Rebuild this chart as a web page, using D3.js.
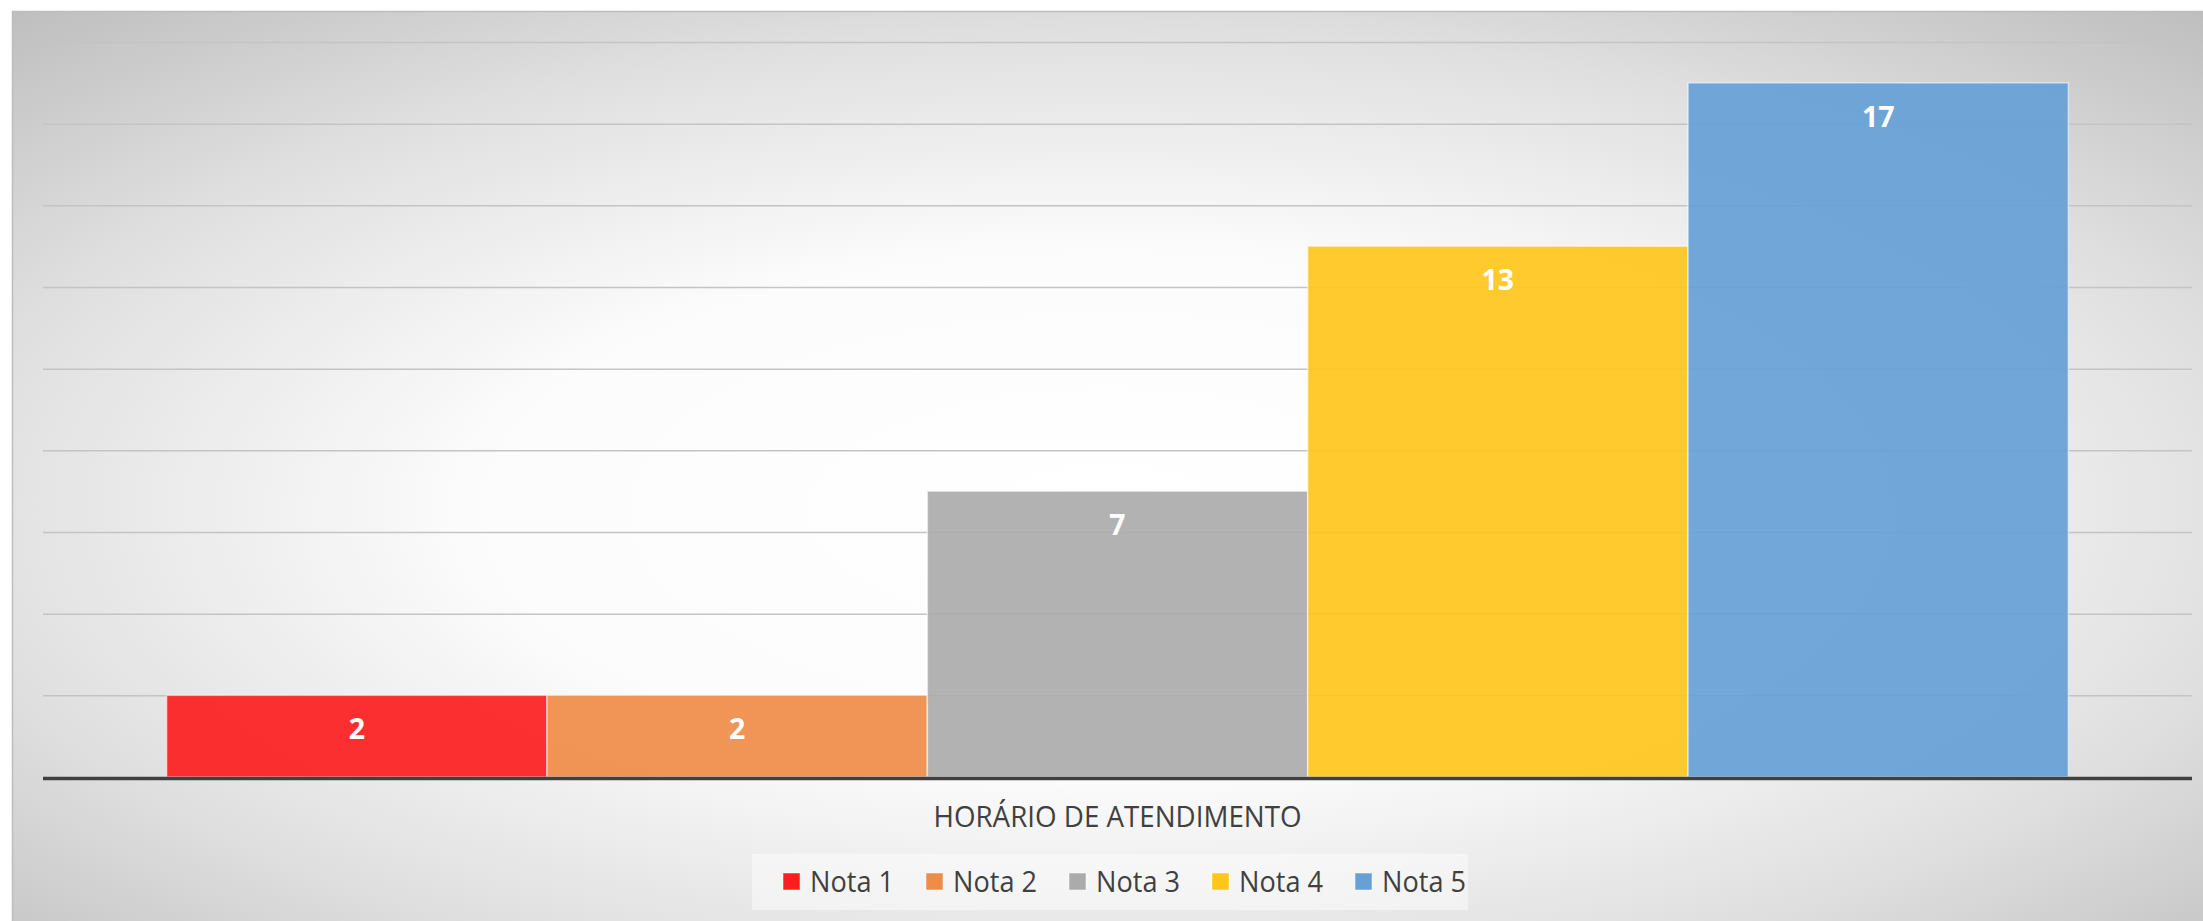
<!DOCTYPE html>
<html>
<head>
<meta charset="utf-8">
<script src="https://cdn.jsdelivr.net/npm/d3@7"></script>
<style>
  html, body { margin: 0; padding: 0; background: #ffffff; }
  svg { display: block; }
</style>
</head>
<body>
<svg id="chart" width="2203" height="921"></svg>
<script>
// ---- data ----
const categories = ["HORÁRIO DE ATENDIMENTO"];
const seriesNames = ["Nota 1", "Nota 2", "Nota 3", "Nota 4", "Nota 5"];
const seriesValues = [2, 2, 7, 13, 17];
const seriesColors = ["#FC1E1E", "#EF8C48", "#ABABAB", "#FFC61C", "#66A0D7"];
const yTicks = [0, 2, 4, 6, 8, 10, 12, 14, 16, 18];

// ---- layout ----
const W = 2203, H = 921;
const plot = { left: 43, right: 2192, top: 42, bottom: 777 };

const svg = d3.select("#chart");
const defs = svg.append("defs");

const grad = defs.append("radialGradient")
  .attr("id", "bg")
  .attr("cx", 0.5).attr("cy", 0.55).attr("r", 0.75)
  .attr("fx", 0.5).attr("fy", 0.55);
grad.append("stop").attr("offset", 0).attr("stop-color", "#ffffff");
grad.append("stop").attr("offset", 0.38).attr("stop-color", "#fcfcfc");
grad.append("stop").attr("offset", 0.7).attr("stop-color", "#e0e0e0");
grad.append("stop").attr("offset", 1).attr("stop-color", "#bdbdbd");

// chart area background
svg.append("rect")
  .attr("x", 12).attr("y", 11).attr("width", W - 12).attr("height", H - 11)
  .attr("fill", "url(#bg)");
svg.append("path")
  .attr("d", `M12.5,${H} V11.5 H${W}`)
  .attr("fill", "none").attr("stroke", "#bdbdbd").attr("stroke-width", 1.5);

// scales
const y = d3.scaleLinear().domain([0, 18]).range([plot.bottom, plot.top]);
const x0 = d3.scaleBand().domain(categories)
  .range([plot.left, plot.right]).paddingInner(0).paddingOuter(0.065);
const x1 = d3.scaleBand().domain(seriesNames)
  .range([0, x0.bandwidth()]).padding(0);
const color = d3.scaleOrdinal().domain(seriesNames).range(seriesColors);

// gridlines
const gridAxis = d3.axisLeft(y).tickValues(yTicks.filter(t => t > 0))
  .tickSize(-(plot.right - plot.left)).tickFormat("");
const gg = svg.append("g")
  .attr("transform", `translate(${plot.left},0)`)
  .call(gridAxis);
gg.select(".domain").remove();
gg.selectAll(".tick line").attr("stroke", "#c4c4c4").attr("stroke-width", 1.5);

// bars
const data = seriesNames.map((s, i) => ({ series: s, value: seriesValues[i], cat: categories[0] }));
const barG = svg.append("g");
barG.selectAll("rect").data(data).join("rect")
  .attr("x", d => x0(d.cat) + x1(d.series))
  .attr("y", d => y(d.value))
  .attr("width", x1.bandwidth())
  .attr("height", d => y(0) - y(d.value))
  .attr("fill", d => color(d.series))
  .attr("fill-opacity", 0.92)
  .attr("stroke", "rgba(255,255,255,0.55)")
  .attr("stroke-width", 1.5);

// data labels
barG.selectAll("text").data(data).join("text")
  .attr("x", d => x0(d.cat) + x1(d.series) + x1.bandwidth() / 2)
  .attr("y", d => y(d.value) + 44)
  .attr("text-anchor", "middle")
  .attr("font-family", "'Open Sans', sans-serif")
  .attr("font-weight", "bold")
  .attr("font-size", 28.5)
  .attr("fill", "#ffffff")
  .text(d => d.value);

// baseline (x axis)
const xAxis = d3.axisBottom(x0).tickSize(0).tickFormat("");
const xg = svg.append("g").attr("transform", `translate(0,${plot.bottom + 1.5})`).call(xAxis);
xg.select(".domain").attr("stroke", "#404040").attr("stroke-width", 3.5)
  .attr("d", `M${plot.left},0H${plot.right}`);

// category label
svg.append("text")
  .attr("x", (plot.left + plot.right) / 2)
  .attr("y", 827)
  .attr("text-anchor", "middle")
  .attr("font-family", "'Open Sans', sans-serif")
  .attr("font-size", 29)
  .attr("fill", "#404040")
  .attr("textLength", 368)
  .attr("lengthAdjust", "spacingAndGlyphs")
  .text(categories[0]);

// legend
const legG = svg.append("g");
legG.append("rect")
  .attr("x", 752).attr("y", 854).attr("width", 716).attr("height", 56)
  .attr("fill", "rgba(255,255,255,0.45)");
const legX = d3.scalePoint().domain(seriesNames).range([783, 1355]);
const items = legG.selectAll("g.item").data(seriesNames).join("g")
  .attr("class", "item")
  .attr("transform", d => `translate(${legX(d)},0)`);
items.append("rect")
  .attr("x", 0).attr("y", 873).attr("width", 17).attr("height", 17)
  .attr("fill", d => color(d))
  .attr("stroke", "rgba(255,255,255,0.5)").attr("stroke-width", 1);
items.append("text")
  .attr("x", 27).attr("y", 892)
  .attr("font-family", "'Open Sans', sans-serif")
  .attr("font-size", 29)
  .attr("fill", "#404040")
  .attr("textLength", 84)
  .attr("lengthAdjust", "spacingAndGlyphs")
  .text(d => d);
</script>
</body>
</html>
